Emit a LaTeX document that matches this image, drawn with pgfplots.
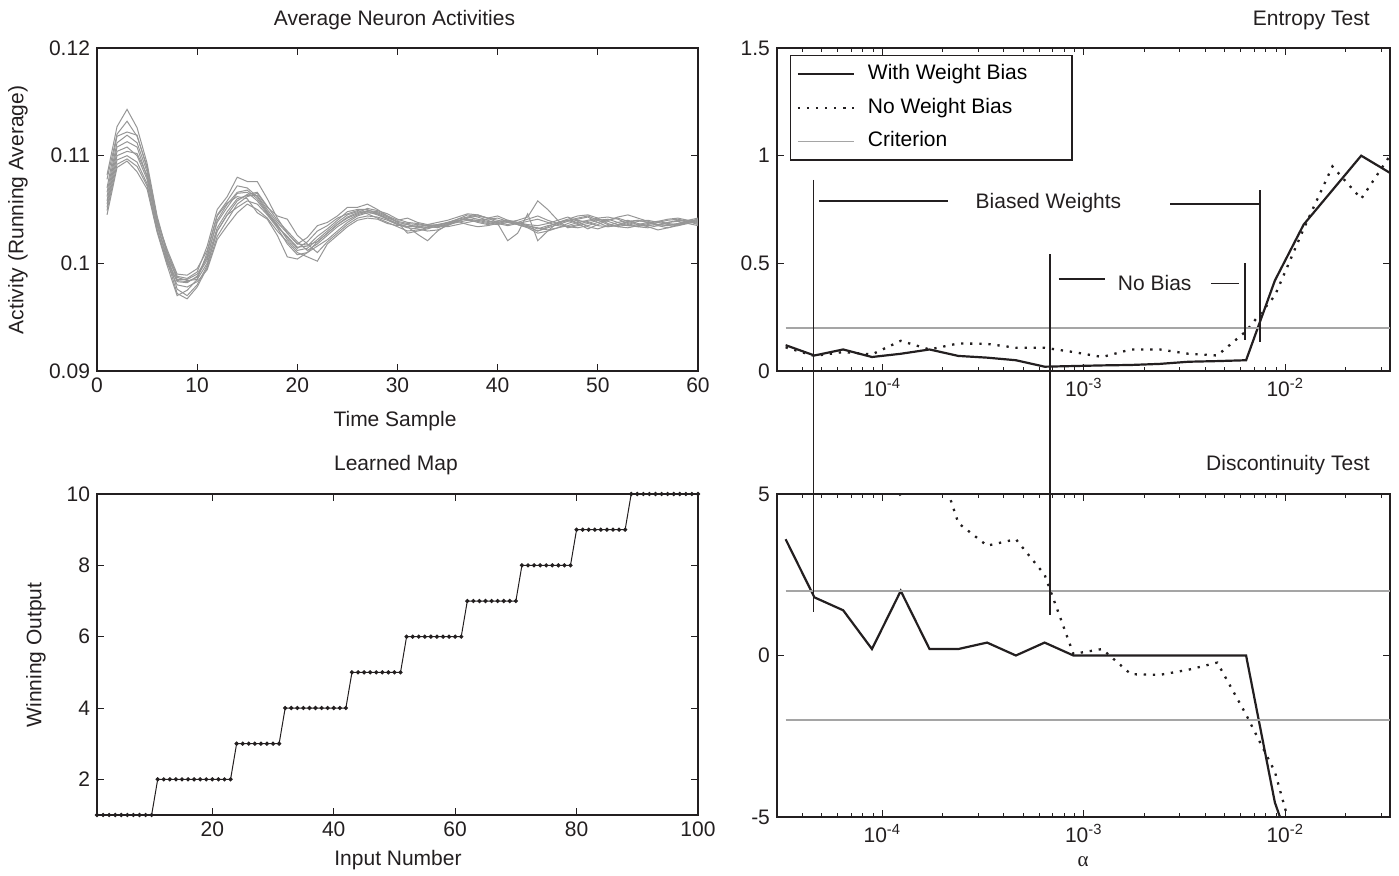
\documentclass[border=0pt]{standalone}
\usepackage{fontspec}
\setmainfont{Liberation Sans}
\newfontfamily\seriffont{Liberation Serif}
\usepackage{pgfplots}
\usepackage{pgfplotstable}
\pgfplotsset{compat=1.18}

\definecolor{ink}{RGB}{35,31,32}
\definecolor{linegray}{RGB}{150,150,150}
\definecolor{critgray}{RGB}{165,165,165}

\tikzset{
  lbl/.style={font=\fontsize{10.5}{12}\selectfont, text=ink, inner sep=0pt},
  dotline/.style={ink, line width=1.15pt, dash pattern=on 1.15pt off 3.4pt},
}
\newcommand{\legtext}[1]{\hspace*{4.5pt}\makebox[97pt][l]{#1}}
\pgfplotsset{
  panel/.style={
    scale only axis, anchor=south west,
    axis line style={ink, line width=0.65pt},
    every tick/.style={ink, line width=0.5pt},
    major tick length=3.5pt, minor tick length=2pt,
    tick align=inside,
    tick label style={font=\fontsize{10.5}{12}\selectfont, text=ink},
    /pgf/number format/assume math mode=true,
    scaled ticks=false,
  },
}

% running averages of 10 neurons, samples 1..60
\pgfplotstableread{
t s1 s2 s3 s4 s5 s6 s7 s8 s9 s10
1 0.1082 0.1078 0.1070 0.1066 0.1062 0.1058 0.1055 0.1052 0.1049 0.1045
2 0.1127 0.1120 0.1118 0.1112 0.1108 0.1104 0.1100 0.1096 0.1092 0.1089
3 0.1143 0.1132 0.1122 0.1119 0.1113 0.1108 0.1104 0.1100 0.1097 0.1095
4 0.1126 0.1118 0.1119 0.1112 0.1108 0.1100 0.1102 0.1094 0.1090 0.1085
5 0.1093 0.1090 0.1088 0.1085 0.1080 0.1078 0.1082 0.1074 0.1072 0.1069
6 0.1044 0.1042 0.1040 0.1038 0.1036 0.1035 0.1040 0.1032 0.1030 0.1029
7 0.1010 0.1008 0.1013 0.1004 0.1003 0.1006 0.1011 0.1000 0.1001 0.0998
8 0.0985 0.0976 0.0990 0.0983 0.0972 0.0987 0.0988 0.0980 0.0984 0.0970
9 0.0985 0.0970 0.0989 0.0982 0.0967 0.0984 0.0986 0.0978 0.0983 0.0975
10 0.0990 0.0980 0.0995 0.0988 0.0978 0.0985 0.0992 0.0983 0.0987 0.0985
11 0.1005 0.0998 0.1012 0.1003 0.0996 0.1000 0.1016 0.0994 0.1007 0.1010
12 0.1040 0.1030 0.1045 0.1033 0.1025 0.1030 0.1050 0.1022 0.1038 0.1044
13 0.1055 0.1045 0.1058 0.1048 0.1040 0.1045 0.1062 0.1035 0.1052 0.1056
14 0.1066 0.1058 0.1072 0.1060 0.1055 0.1052 0.1080 0.1047 0.1065 0.1062
15 0.1068 0.1064 0.1070 0.1063 0.1062 0.1058 0.1076 0.1055 0.1066 0.1060
16 0.1060 0.1066 0.1062 0.1063 0.1065 0.1055 0.1076 0.1050 0.1058 0.1047
17 0.1047 0.1053 0.1048 0.1050 0.1052 0.1045 0.1060 0.1042 0.1046 0.1041
18 0.1034 0.1040 0.1036 0.1038 0.1044 0.1033 0.1042 0.1030 0.1035 0.1026
19 0.1025 0.1030 0.1022 0.1028 0.1041 0.1018 0.1028 0.1020 0.1024 0.1006
20 0.1015 0.1020 0.1012 0.1018 0.1026 0.1008 0.1018 0.1010 0.1014 0.1004
21 0.1016 0.1012 0.1014 0.1017 0.1018 0.1010 0.1024 0.1006 0.1020 0.1010
22 0.1025 0.1018 0.1022 0.1020 0.1010 0.1016 0.1035 0.1002 0.1030 0.1020
23 0.1032 0.1026 0.1030 0.1028 0.1020 0.1022 0.1038 0.1018 0.1035 0.1028
24 0.1040 0.1034 0.1038 0.1036 0.1028 0.1030 0.1044 0.1026 0.1042 0.1036
25 0.1048 0.1040 0.1045 0.1042 0.1036 0.1038 0.1052 0.1034 0.1046 0.1043
26 0.1050 0.1045 0.1048 0.1046 0.1042 0.1044 0.1052 0.1040 0.1049 0.1047
27 0.1050 0.1048 0.1046 0.1049 0.1044 0.1047 0.1055 0.1042 0.1048 0.1051
28 0.1046 0.1047 0.1042 0.1048 0.1043 0.1046 0.1050 0.1041 0.1045 0.1049
29 0.1041 0.1043 0.1038 0.1044 0.1040 0.1042 0.1044 0.1037 0.1041 0.1046
30 0.1036 0.1038 0.1034 0.1040 0.1036 0.1039 0.1038 0.1035 0.1037 0.1041
31 0.1034 0.1036 0.1030 0.1042 0.1033 0.1037 0.1028 0.1036 0.1034 0.1038
32 0.1035 0.1033 0.1031 0.1038 0.1032 0.1036 0.1030 0.1034 0.1027 0.1037
33 0.1033 0.1034 0.1033 0.1036 0.1030 0.1035 0.1032 0.1036 0.1021 0.1035
34 0.1034 0.1036 0.1034 0.1035 0.1031 0.1033 0.1035 0.1038 0.1030 0.1036
35 0.1037 0.1038 0.1036 0.1034 0.1035 0.1036 0.1038 0.1040 0.1036 0.1037
36 0.1041 0.1040 0.1039 0.1036 0.1039 0.1038 0.1041 0.1043 0.1040 0.1039
37 0.1045 0.1041 0.1042 0.1038 0.1043 0.1040 0.1043 0.1046 0.1041 0.1036
38 0.1043 0.1040 0.1044 0.1040 0.1045 0.1039 0.1041 0.1045 0.1038 0.1034
39 0.1040 0.1038 0.1042 0.1041 0.1042 0.1037 0.1039 0.1042 0.1036 0.1035
40 0.1037 0.1039 0.1040 0.1042 0.1038 0.1036 0.1037 0.1044 0.1038 0.1037
41 0.1035 0.1040 0.1038 0.1039 0.1036 0.1038 0.1039 0.1040 0.1040 0.1021
42 0.1037 0.1038 0.1036 0.1037 0.1038 0.1040 0.1036 0.1036 0.1038 0.1028
43 0.1039 0.1035 0.1034 0.1035 0.1041 0.1043 0.1034 0.1033 0.1036 0.1046
44 0.1041 0.1032 0.1030 0.1033 0.1044 0.1058 0.1030 0.1028 0.1035 0.1021
45 0.1038 0.1035 0.1033 0.1031 0.1040 0.1050 0.1034 0.1030 0.1037 0.1030
46 0.1035 0.1037 0.1036 0.1033 0.1037 0.1040 0.1038 0.1033 0.1040 0.1038
47 0.1034 0.1040 0.1039 0.1035 0.1034 0.1033 0.1041 0.1037 0.1043 0.1040
48 0.1036 0.1042 0.1041 0.1038 0.1033 0.1035 0.1044 0.1040 0.1039 0.1037
49 0.1039 0.1044 0.1043 0.1040 0.1035 0.1037 0.1045 0.1038 0.1034 0.1032
50 0.1041 0.1040 0.1038 0.1042 0.1038 0.1040 0.1042 0.1035 0.1032 0.1036
51 0.1039 0.1036 0.1034 0.1043 0.1040 0.1041 0.1037 0.1034 0.1035 0.1040
52 0.1036 0.1034 0.1035 0.1041 0.1043 0.1038 0.1034 0.1036 0.1038 0.1042
53 0.1035 0.1036 0.1038 0.1037 0.1045 0.1035 0.1033 0.1039 0.1040 0.1039
54 0.1036 0.1039 0.1040 0.1034 0.1042 0.1034 0.1035 0.1040 0.1037 0.1036
55 0.1038 0.1040 0.1038 0.1033 0.1039 0.1036 0.1037 0.1038 0.1035 0.1034
56 0.1039 0.1038 0.1035 0.1035 0.1036 0.1038 0.1039 0.1036 0.1036 0.1031
57 0.1037 0.1036 0.1033 0.1038 0.1035 0.1040 0.1041 0.1035 0.1038 0.1033
58 0.1036 0.1035 0.1035 0.1040 0.1037 0.1041 0.1042 0.1037 0.1039 0.1036
59 0.1038 0.1037 0.1038 0.1039 0.1039 0.1039 0.1040 0.1040 0.1037 0.1039
60 0.1040 0.1039 0.1041 0.1037 0.1038 0.1036 0.1038 0.1042 0.1035 0.1041
}\activity

% winning output for each input
\pgfplotstableread{
n win
1 1
2 1
3 1
4 1
5 1
6 1
7 1
8 1
9 1
10 1
11 2
12 2
13 2
14 2
15 2
16 2
17 2
18 2
19 2
20 2
21 2
22 2
23 2
24 3
25 3
26 3
27 3
28 3
29 3
30 3
31 3
32 4
33 4
34 4
35 4
36 4
37 4
38 4
39 4
40 4
41 4
42 4
43 5
44 5
45 5
46 5
47 5
48 5
49 5
50 5
51 5
52 6
53 6
54 6
55 6
56 6
57 6
58 6
59 6
60 6
61 6
62 7
63 7
64 7
65 7
66 7
67 7
68 7
69 7
70 7
71 8
72 8
73 8
74 8
75 8
76 8
77 8
78 8
79 8
80 9
81 9
82 9
83 9
84 9
85 9
86 9
87 9
88 9
89 10
90 10
91 10
92 10
93 10
94 10
95 10
96 10
97 10
98 10
99 10
100 10
}\learned

% entropy test
\pgfplotstableread{
a with nobias
3.311e-5 0.120 0.110
4.601e-5 0.072 0.070
6.393e-5 0.100 0.088
8.883e-5 0.065 0.077
1.2343e-4 0.080 0.140
1.7151e-4 0.100 0.100
2.3831e-4 0.070 0.128
3.311e-4 0.062 0.126
4.601e-4 0.050 0.108
6.393e-4 0.020 0.108
8.883e-4 0.023 0.088
1.2343e-3 0.026 0.065
1.7151e-3 0.028 0.100
2.3831e-3 0.033 0.100
3.311e-3 0.043 0.080
4.601e-3 0.046 0.072
6.393e-3 0.050 0.185
8.883e-3 0.420 0.350
1.2343e-2 0.680 0.660
1.7151e-2 0.840 0.950
2.3831e-2 1.000 0.800
3.311e-2 0.920 1.000
}\entropy

% discontinuity test
\pgfplotstableread{
a with nobias
3.311e-5 3.60 9.0
4.601e-5 1.80 8.2
6.393e-5 1.40 7.4
8.883e-5 0.20 6.3
1.2343e-4 2.00 4.95
1.7151e-4 0.20 6.8
2.3831e-4 0.20 4.1
3.311e-4 0.40 3.4
4.601e-4 0.00 3.6
6.393e-4 0.40 2.5
8.883e-4 0.00 0.05
1.2343e-3 0.00 0.20
1.7151e-3 0.00 -0.58
2.3831e-3 0.00 -0.60
3.311e-3 0.00 -0.44
4.601e-3 0.00 -0.22
6.393e-3 0.00 -1.83
8.883e-3 -4.55 -3.6
1.2343e-2 -7.1 -6.8
1.7151e-2 -9.0 -8.5
2.3831e-2 -10.0 -9.5
3.311e-2 -11.0 -10.5
}\disc

\begin{document}
\begin{tikzpicture}
\useasboundingbox (0,0) rectangle (699.5pt,437.5pt);

% ---- top left
\begin{axis}[panel, at={(48.5pt,252pt)}, width=300.5pt, height=161.5pt,
  xmin=0, xmax=60, ymin=0.09, ymax=0.12,
  xtick={0,10,...,60}, ytick={0.09,0.1,0.11,0.12},
  yticklabels={0.09,0.1,0.11,0.12}]
\pgfplotsinvokeforeach{1,...,10}{
  \addplot[linegray, line width=0.5pt] table[x=t, y=s#1] {\activity};
}
\end{axis}

% ---- bottom left
\begin{axis}[panel, at={(48.5pt,30pt)}, width=300.5pt, height=160.5pt,
  xmin=1, xmax=100, ymin=1, ymax=10,
  xtick={20,40,...,100}, ytick={2,4,...,10}]
\addplot[ink, line width=0.5pt, mark=*, mark size=0.8pt] table[x=n, y=win] {\learned};
\end{axis}

% ---- top right
\begin{axis}[panel, at={(388.5pt,252pt)}, width=306.5pt, height=161.5pt,
  xmode=log, xmin=3.0e-5, xmax=3.311e-2, ymin=0, ymax=1.5,
  xtick={1e-4,1e-3,1e-2},
  xticklabels={10\textsuperscript{-4},10\textsuperscript{-3},10\textsuperscript{-2}},
  minor xtick={4e-5,5e-5,6e-5,7e-5,8e-5,9e-5,2e-4,3e-4,4e-4,5e-4,6e-4,7e-4,8e-4,9e-4,
    2e-3,3e-3,4e-3,5e-3,6e-3,7e-3,8e-3,9e-3,2e-2,3e-2},
  ytick={0,0.5,1,1.5},
  legend cell align=left,
  legend image code/.code={\draw[#1] (0pt,0pt) -- (28pt,0pt);},
  legend style={at={(0,1)}, anchor=north west, xshift=6.5pt, yshift=-3.5pt,
    draw=ink, line width=0.65pt, fill=white, inner xsep=3pt, inner ysep=2pt,
    row sep=2.3pt, font=\fontsize{10.5}{12}\selectfont,
    nodes={text height=8pt, text depth=2.5pt}}]
\addplot[ink, line width=1.1pt] table[x=a, y=with] {\entropy};
\addlegendentry{\legtext{With Weight Bias}}
\addplot[dotline] table[x=a, y=nobias] {\entropy};
\addlegendentry{\legtext{No Weight Bias}}
\addplot[critgray, line width=0.7pt] table[x=a, y expr=0.2] {\entropy};
\addlegendentry{\legtext{Criterion}}
% annotation marks
\draw[ink, line width=0.8pt] (axis cs:4.85e-5,0.79) -- (axis cs:2.12e-4,0.79);
\draw[ink, line width=0.8pt] (axis cs:2.69e-3,0.776) -- (axis cs:7.48e-3,0.776);
\node[lbl] at (axis cs:6.68e-4,0.78) {Biased Weights};
\draw[ink, line width=0.8pt] (axis cs:7.5e-4,0.426) -- (axis cs:1.28e-3,0.426);
\draw[ink, line width=0.8pt] (axis cs:4.3e-3,0.407) -- (axis cs:5.9e-3,0.407);
\node[lbl] at (axis cs:2.25e-3,0.41) {No Bias};
\draw[ink, line width=0.7pt] (axis cs:7.48e-3,0.84) -- (axis cs:7.48e-3,0.136);
\draw[ink, line width=0.7pt] (axis cs:6.32e-3,0.50) -- (axis cs:6.32e-3,0.144);
\coordinate (v1top) at (axis cs:4.55e-5,0.887);
\coordinate (v2top) at (axis cs:6.8e-4,0.542);
\end{axis}

% ---- bottom right
\begin{axis}[panel, at={(388.5pt,29pt)}, width=306.5pt, height=161.5pt,
  xmode=log, xmin=3.0e-5, xmax=3.311e-2, ymin=-5, ymax=5,
  xtick={1e-4,1e-3,1e-2},
  xticklabels={10\textsuperscript{-4},10\textsuperscript{-3},10\textsuperscript{-2}},
  minor xtick={4e-5,5e-5,6e-5,7e-5,8e-5,9e-5,2e-4,3e-4,4e-4,5e-4,6e-4,7e-4,8e-4,9e-4,
    2e-3,3e-3,4e-3,5e-3,6e-3,7e-3,8e-3,9e-3,2e-2,3e-2},
  ytick={-5,0,5}]
\addplot[ink, line width=1.1pt] table[x=a, y=with] {\disc};
\addplot[dotline] table[x=a, y=nobias] {\disc};
\addplot[critgray, line width=0.7pt] table[x=a, y expr=2] {\disc};
\addplot[critgray, line width=0.7pt] table[x=a, y expr=-2] {\disc};
\coordinate (v1bot) at (axis cs:4.55e-5,1.35);
\coordinate (v2bot) at (axis cs:6.8e-4,1.26);
\end{axis}

% range markers that run through both right panels
\draw[ink, line width=0.7pt] (v1top) -- (v1bot);
\draw[ink, line width=0.7pt] (v2top) -- (v2bot);

% titles and axis labels
\node[lbl] at (197.25pt,427.5pt) {Average Neuron Activities};
\node[lbl, anchor=east] at (685pt,427.5pt) {Entropy Test};
\node[lbl] at (198pt,205pt) {Learned Map};
\node[lbl, anchor=east] at (685pt,205pt) {Discontinuity Test};
\node[lbl] at (197.5pt,227pt) {Time Sample};
\node[lbl] at (199pt,7.5pt) {Input Number};
\node[lbl] at (541.5pt,6.5pt) {\seriffont α};
\node[lbl, rotate=90] at (9pt,332.5pt) {Activity (Running Average)};
\node[lbl, rotate=90] at (18pt,110pt) {Winning Output};
\end{tikzpicture}
\end{document}
